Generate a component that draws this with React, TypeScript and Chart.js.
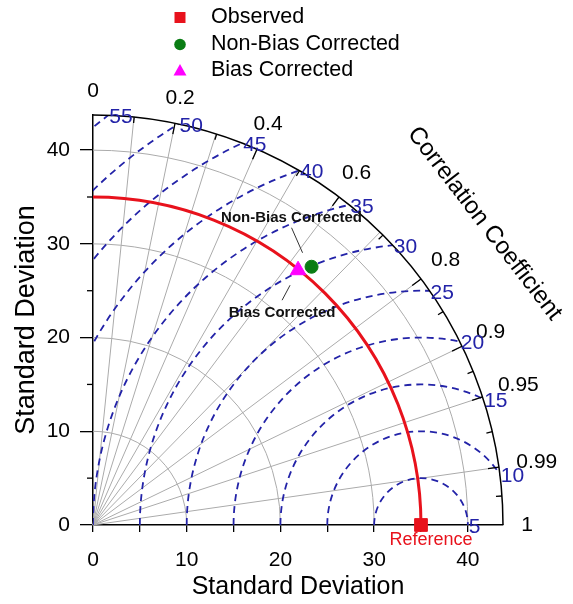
import React, { useEffect, useRef } from 'react';
import { Chart, registerables } from 'chart.js';

Chart.register(...registerables);

// ---- data ----
const REF_STD = 35;
const MAX_STD = 43.75;
const seriesNames = ['Observed', 'Non-Bias Corrected', 'Bias Corrected'];
const modelNames = ['Non-Bias Corrected', 'Bias Corrected'];
const modelStd = [36.1, 34.9];
const modelCorr = [0.646, 0.627];
const stdTicks = [0, 10, 20, 30, 40];
const stdMinorTicks = [5, 15, 25, 35];
const stdGridCircles = [10, 20, 30, 40];
const rmsLevels = [5, 10, 15, 20, 25, 30, 35, 40, 45, 50, 55];
const corrLines = [0.1, 0.2, 0.3, 0.4, 0.5, 0.6, 0.7, 0.8, 0.9, 0.95, 0.99];
const corrLabels = [0, 0.2, 0.4, 0.6, 0.8, 0.9, 0.95, 0.99, 1];

const FONT = 'Arial, "Liberation Sans", sans-serif';
const BLUE = '#2323a8';
const RED = '#e8121c';
const GREEN = '#0a7d14';
const MAGENTA = '#ff00ff';

const toXY = (std: number, corr: number) => ({
  x: std * corr,
  y: std * Math.sqrt(1 - corr * corr),
});

const taylorPlugin = {
  id: 'taylor',
  beforeDatasetsDraw(chart: any) {
    const { ctx, scales } = chart;
    const xs = scales.x;
    const ys = scales.y;
    const ox = xs.getPixelForValue(0);
    const oy = ys.getPixelForValue(0);
    const k = xs.getPixelForValue(1) - ox;
    const R = MAX_STD * k;
    ctx.save();

    // gray std circles
    ctx.strokeStyle = '#ababab';
    ctx.lineWidth = 1;
    stdGridCircles.forEach((s) => {
      ctx.beginPath();
      ctx.arc(ox, oy, s * k, -Math.PI / 2, 0);
      ctx.stroke();
    });
    // radial correlation lines
    corrLines.forEach((c) => {
      const a = Math.acos(c);
      ctx.beginPath();
      ctx.moveTo(ox, oy);
      ctx.lineTo(ox + R * Math.cos(a), oy - R * Math.sin(a));
      ctx.stroke();
    });

    // RMS circles (clipped)
    const rx = xs.getPixelForValue(REF_STD);
    ctx.save();
    ctx.beginPath();
    ctx.moveTo(ox, oy);
    ctx.arc(ox, oy, R, 0, -Math.PI / 2, true);
    ctx.closePath();
    ctx.clip();
    ctx.strokeStyle = BLUE;
    ctx.lineWidth = 1.8;
    ctx.setLineDash([7, 5]);
    rmsLevels.forEach((r) => {
      ctx.beginPath();
      ctx.arc(rx, oy, r * k, Math.PI, 2 * Math.PI);
      ctx.stroke();
    });
    ctx.restore();

    // red reference std arc
    ctx.strokeStyle = RED;
    ctx.lineWidth = 3;
    ctx.beginPath();
    ctx.arc(ox, oy, REF_STD * k, -Math.PI / 2, 0);
    ctx.stroke();

    // outer arc
    ctx.strokeStyle = '#000';
    ctx.lineWidth = 1.5;
    ctx.beginPath();
    ctx.arc(ox, oy, R, -Math.PI / 2, 0);
    ctx.stroke();

    // arc ticks
    ctx.lineWidth = 1.3;
    corrLabels.forEach((c, i) => {
      const a = Math.acos(c);
      if (c > 0 && c < 1) {
        ctx.beginPath();
        ctx.moveTo(ox + R * Math.cos(a), oy - R * Math.sin(a));
        ctx.lineTo(ox + (R - 11) * Math.cos(a), oy - (R - 11) * Math.sin(a));
        ctx.stroke();
      }
      if (i < corrLabels.length - 1) {
        const m = (a + Math.acos(corrLabels[i + 1])) / 2;
        ctx.beginPath();
        ctx.moveTo(ox + R * Math.cos(m), oy - R * Math.sin(m));
        ctx.lineTo(ox + (R - 6) * Math.cos(m), oy - (R - 6) * Math.sin(m));
        ctx.stroke();
      }
    });

    // minor ticks on y axis
    stdMinorTicks.forEach((v) => {
      const py = ys.getPixelForValue(v);
      ctx.beginPath();
      ctx.moveTo(ox - 6, py);
      ctx.lineTo(ox, py);
      ctx.stroke();
    });

    // correlation labels
    ctx.fillStyle = '#000';
    ctx.font = `21px ${FONT}`;
    ctx.textAlign = 'center';
    ctx.textBaseline = 'middle';
    corrLabels.forEach((c) => {
      const a = Math.acos(c);
      const t = String(c);
      const w = ctx.measureText(t).width;
      const rc = R + 24 + Math.max(0, w / 2 - 6) * Math.cos(a);
      ctx.fillText(t, ox + rc * Math.cos(a), oy - rc * Math.sin(a));
    });

    // RMS labels
    ctx.fillStyle = BLUE;
    ctx.textAlign = 'left';
    rmsLevels.forEach((r) => {
      let sx: number, sy: number;
      if (REF_STD + r <= MAX_STD) {
        sx = REF_STD + r;
        sy = 0;
      } else {
        sx = (MAX_STD * MAX_STD + REF_STD * REF_STD - r * r) / (2 * REF_STD);
        sy = Math.sqrt(MAX_STD * MAX_STD - sx * sx);
      }
      ctx.fillText(String(r), xs.getPixelForValue(sx) + 1, ys.getPixelForValue(sy) + 2);
    });

    // Correlation Coefficient title
    const ta = (37.6 * Math.PI) / 180;
    const tr = R * 1.205;
    ctx.save();
    ctx.translate(ox + tr * Math.cos(ta), oy - tr * Math.sin(ta));
    ctx.rotate(Math.PI / 2 - ta);
    ctx.fillStyle = '#000';
    ctx.font = `24px ${FONT}`;
    ctx.textAlign = 'center';
    ctx.textBaseline = 'middle';
    ctx.fillText('Correlation Coefficient', 0, 0);
    ctx.restore();

    ctx.restore();
  },
  afterDatasetsDraw(chart: any) {
    const { ctx, scales } = chart;
    const xs = scales.x;
    const ys = scales.y;
    ctx.save();
    // reference label
    const sx = xs.getPixelForValue(REF_STD);
    const sy = ys.getPixelForValue(0);
    ctx.fillStyle = RED;
    ctx.font = `18px ${FONT}`;
    ctx.textAlign = 'center';
    ctx.textBaseline = 'middle';
    ctx.fillText('Reference', sx + 10, sy + 15);

    // annotations
    const pts = modelStd.map((s, i) => {
      const p = toXY(s, modelCorr[i]);
      return [xs.getPixelForValue(p.x), ys.getPixelForValue(p.y)];
    });
    ctx.strokeStyle = '#333';
    ctx.lineWidth = 1;
    ctx.fillStyle = '#111';
    ctx.font = `bold 15px ${FONT}`;
    const [gx, gy] = pts[0];
    ctx.beginPath();
    ctx.moveTo(gx - 20, gy - 39);
    ctx.lineTo(gx - 9, gy - 14);
    ctx.stroke();
    ctx.fillText(modelNames[0], gx - 20, gy - 49);
    const [bx, by] = pts[1];
    ctx.beginPath();
    ctx.moveTo(bx - 8, by + 15);
    ctx.lineTo(bx - 16, by + 30);
    ctx.stroke();
    ctx.fillText(modelNames[1], bx - 16, by + 43);

    // legend
    ctx.font = `21.5px ${FONT}`;
    ctx.textAlign = 'left';
    ctx.textBaseline = 'middle';
    const rows = [17.5, 44.5, 70.5];
    chart.data.datasets.forEach((ds: any, i: number) => {
      const cy = rows[i];
      const cx = 180;
      ctx.fillStyle = ds.backgroundColor;
      ctx.beginPath();
      if (ds.pointStyle === 'rect') {
        ctx.rect(cx - 5.5, cy - 5.5, 11, 11);
      } else if (ds.pointStyle === 'circle') {
        ctx.arc(cx, cy, 5.8, 0, Math.PI * 2);
      } else {
        ctx.moveTo(cx, cy - 6.5);
        ctx.lineTo(cx + 6.5, cy + 5);
        ctx.lineTo(cx - 6.5, cy + 5);
        ctx.closePath();
      }
      ctx.fill();
      ctx.fillStyle = '#000';
      ctx.fillText(ds.label, 211, cy);
    });
    ctx.restore();
  },
};

export default function App() {
  const ref = useRef<HTMLCanvasElement>(null);
  useEffect(() => {
    document.body.style.margin = '0';
    const canvas = ref.current!;
    const modelPts = modelStd.map((s, i) => toXY(s, modelCorr[i]));
    const chart = new Chart(canvas, {
      type: 'scatter',
      data: {
        datasets: [
          {
            label: seriesNames[0],
            data: [{ x: REF_STD, y: 0 }],
            pointStyle: 'rect',
            pointRadius: 9,
            backgroundColor: RED,
            borderColor: RED,
            borderWidth: 1,
            clip: false,
          },
          {
            label: seriesNames[1],
            data: [modelPts[0]],
            pointStyle: 'circle',
            pointRadius: 6.5,
            backgroundColor: GREEN,
            borderColor: GREEN,
            borderWidth: 1,
            clip: false,
          },
          {
            label: seriesNames[2],
            data: [modelPts[1]],
            pointStyle: 'triangle',
            pointRadius: 9,
            backgroundColor: MAGENTA,
            borderColor: MAGENTA,
            borderWidth: 1,
            clip: false,
          },
        ] as any,
      },
      options: {
        responsive: false,
        animation: false,
        events: [],
        layout: { padding: { left: 0, right: 70, top: 115, bottom: 0 } },
        plugins: { legend: { display: false }, tooltip: { enabled: false } },
        scales: {
          x: {
            type: 'linear',
            min: 0,
            max: MAX_STD,
            afterFit: (s: any) => {
              s.height = 79;
            },
            ticks: {
              stepSize: 5,
              includeBounds: false,
              autoSkip: false,
              maxRotation: 0,
              padding: 16,
              color: '#000',
              font: { size: 21, family: FONT },
              callback: (v: any) => (stdTicks.includes(v) ? String(v) : ''),
            },
            grid: { drawOnChartArea: false, tickLength: 7, color: '#000', lineWidth: 1.3 },
            border: { color: '#000', width: 1.5 },
            title: {
              display: true,
              text: 'Standard Deviation',
              color: '#000',
              font: { size: 25, family: FONT },
              padding: { top: 0, bottom: 2 },
            },
          },
          y: {
            type: 'linear',
            min: 0,
            max: MAX_STD,
            afterFit: (s: any) => {
              s.width = 93;
            },
            ticks: {
              stepSize: 10,
              includeBounds: false,
              autoSkip: false,
              padding: 10,
              color: '#000',
              font: { size: 21, family: FONT },
              callback: (v: any) => (stdTicks.includes(v) ? String(v) : ''),
            },
            grid: { drawOnChartArea: false, tickLength: 13, color: '#000', lineWidth: 1.3 },
            border: { color: '#000', width: 1.5 },
            title: {
              display: true,
              text: 'Standard Deviation',
              color: '#000',
              font: { size: 27, family: FONT },
              padding: { top: 10, bottom: 0 },
            },
          },
        },
      },
      plugins: [taylorPlugin],
    });
    return () => chart.destroy();
  }, []);
  return <canvas ref={ref} width={573} height={604} style={{ display: 'block' }} />;
}
